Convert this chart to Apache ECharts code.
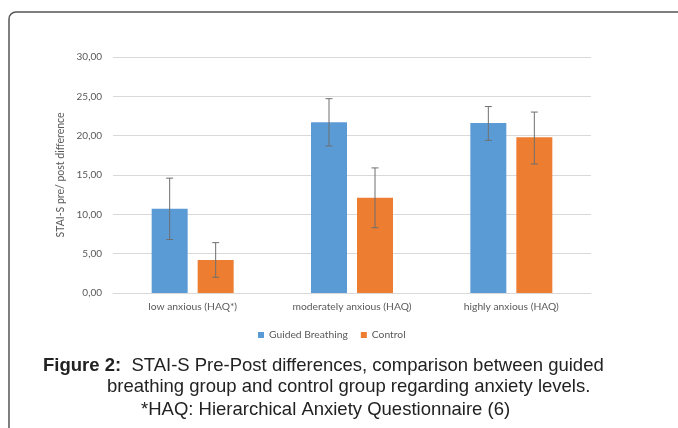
<!DOCTYPE html>
<html>
<head>
<meta charset="utf-8">
<script src="https://cdn.jsdelivr.net/npm/echarts@6/dist/echarts.min.js"></script>
<style>
  html, body { margin: 0; padding: 0; background: #fff; }
  #chart { width: 678px; height: 428px; }
</style>
</head>
<body>
<div id="chart"></div>
<script>
// 数据
const categories = ['low anxious (HAQ*)', 'moderately anxious (HAQ)', 'highly anxious (HAQ)'];
const guidedMean = [10.7, 21.7, 21.6];
const guidedLow = [6.8, 18.7, 19.4];
const guidedHigh = [14.6, 24.7, 23.7];
const controlMean = [4.2, 12.1, 19.8];
const controlLow = [2.0, 8.3, 16.4];
const controlHigh = [6.4, 15.9, 23.0];
const yTicks = [0, 5, 10, 15, 20, 25, 30];

const BAR_W = 36;
const BAR_GAP = 10;

const chart = echarts.init(document.getElementById('chart'));

// 误差线
function errorSeries(name, low, high, side) {
  return {
    name: name,
    type: 'custom',
    z: 10,
    silent: true,
    renderItem(params, api) {
      const top = api.coord([api.value(0), api.value(2)]);
      const bot = api.coord([api.value(0), api.value(1)]);
      const x = top[0] + side * (BAR_W + BAR_GAP) / 2;
      const cap = 3.5;
      const style = { stroke: '#6f6f6f', lineWidth: 1 };
      return {
        type: 'group',
        children: [
          { type: 'line', shape: { x1: x, y1: top[1], x2: x, y2: bot[1] }, style },
          { type: 'line', shape: { x1: x - cap, y1: top[1], x2: x + cap, y2: top[1] }, style },
          { type: 'line', shape: { x1: x - cap, y1: bot[1], x2: x + cap, y2: bot[1] }, style }
        ]
      };
    },
    data: categories.map((c, i) => [i, low[i], high[i]])
  };
}

const captionFont = '"Liberation Sans", Arial, sans-serif';
const captionSize = 18.5;

chart.setOption({
  animation: false,
  textStyle: { fontFamily: 'Lato, "Open Sans", sans-serif' },
  grid: { left: 113, right: 87, top: 57, bottom: 135 },
  legend: {
    data: ['Guided Breathing', 'Control'],
    top: 325,
    left: 253,
    icon: 'rect',
    itemWidth: 6,
    itemHeight: 6,
    itemGap: 13,
    textStyle: { color: '#595959', fontSize: 10.3, fontFamily: 'Lato, sans-serif' }
  },
  xAxis: {
    type: 'category',
    data: categories,
    axisLine: { lineStyle: { color: '#d9d9d9' } },
    axisTick: { show: false },
    axisLabel: { color: '#595959', fontSize: 10.3, margin: 9, interval: 0 }
  },
  yAxis: {
    type: 'value',
    min: yTicks[0],
    max: yTicks[yTicks.length - 1],
    interval: 5,
    name: 'STAI-S pre/ post difference',
    nameLocation: 'middle',
    nameGap: 45,
    nameTextStyle: { color: '#595959', fontSize: 10.5 },
    axisLine: { show: false },
    axisTick: { show: false },
    axisLabel: {
      color: '#595959',
      fontSize: 10,
      margin: 11,
      formatter: v => v.toFixed(2).replace('.', ',')
    },
    splitLine: { lineStyle: { color: '#d9d9d9' } }
  },
  series: [
    {
      name: 'Guided Breathing',
      type: 'bar',
      barWidth: BAR_W,
      barGap: (BAR_GAP / BAR_W * 100) + '%',
      itemStyle: { color: '#5b9bd5' },
      data: guidedMean
    },
    {
      name: 'Control',
      type: 'bar',
      barWidth: BAR_W,
      itemStyle: { color: '#ed7d31' },
      data: controlMean
    },
    errorSeries('Guided err', guidedLow, guidedHigh, -1),
    errorSeries('Control err', controlLow, controlHigh, 1)
  ],
  graphic: [
    {
      type: 'rect',
      silent: true,
      shape: { x: 9, y: 12, width: 720, height: 460, r: 7 },
      style: { fill: 'none', stroke: '#555', lineWidth: 1.5 }
    },
    {
      type: 'text',
      left: 43,
      top: 356,
      style: {
        text: '{b|Figure 2:}  STAI-S Pre-Post differences, comparison between guided',
        font: captionSize + 'px ' + captionFont,
        fill: '#222',
        rich: {
          b: { fontWeight: 'bold', fontSize: captionSize, fontFamily: captionFont, fill: '#222' }
        }
      }
    },
    {
      type: 'text',
      left: 107,
      top: 377,
      style: {
        text: 'breathing group and control group regarding anxiety levels.',
        font: captionSize + 'px ' + captionFont,
        fill: '#222'
      }
    },
    {
      type: 'text',
      left: 141,
      top: 400,
      style: {
        text: '*HAQ: Hierarchical Anxiety Questionnaire (6)',
        font: captionSize + 'px ' + captionFont,
        fill: '#222'
      }
    }
  ]
});
</script>
</body>
</html>
